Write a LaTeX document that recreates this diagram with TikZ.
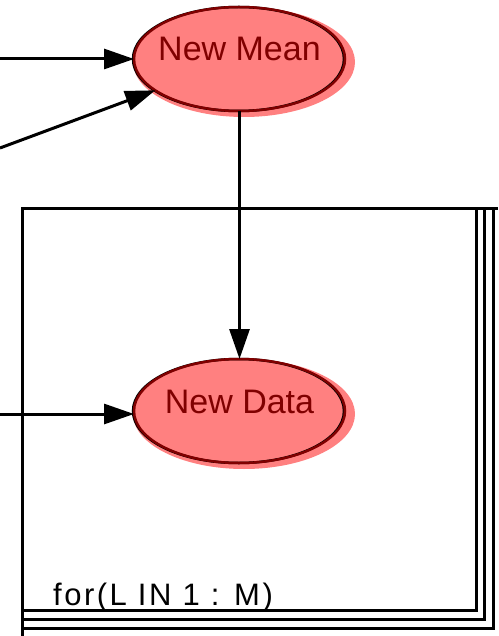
\documentclass[tikz,border=0pt]{standalone}
\usepackage{fontspec}
\setmainfont{Liberation Sans}
\newfontfamily\platefont[LetterSpace=8]{Liberation Sans}
\usetikzlibrary{shapes.geometric,arrows.meta}
\definecolor{nodefill}{HTML}{FF8080}
\definecolor{nodeline}{HTML}{800000}
\tikzset{>={Triangle[length=30pt,width=20pt]}}
\tikzset{
    stoch/.style={ellipse, draw=nodeline, line width=2.5pt, minimum width=211pt, minimum height=104pt,
        inner xsep=-12pt, inner ysep=0pt, outer sep=0pt, text=nodeline,
        font=\fontsize{34}{40}\selectfont, text height=24pt, text depth=20pt},
    blob/.style={fill=nodefill},
    link/.style={->, line width=3pt},
    plate/.style={line width=3pt}
}

\begin{document}
\begin{tikzpicture}[x=1pt, y=-1pt]
    \useasboundingbox (0,0) rectangle (498,636);
    % plate
    \draw[plate] (22,636)--(22,209)--(498,209);
    \foreach \r/\b in {476/610, 484.5/619, 493/628}
        \draw[plate] (\r,209)--(\r,\b)--(22,\b);
    \node[anchor=base west, inner sep=0pt, font=\platefont\fontsize{31}{36}\selectfont] (loop) at (53,605) {for(L IN 1 : M)};
    % nodes
    \fill[blob] (244,62) ellipse [x radius=111, y radius=55];
    \fill[blob] (244,414) ellipse [x radius=111, y radius=55];
    \draw[line width=2.5pt] (238.5,59) ellipse [x radius=105.5, y radius=52];
    \draw[line width=2.5pt] (238.5,411) ellipse [x radius=105.5, y radius=52];
    \node[stoch] (mean) at (239.5,59) {New Mean};
    \node[stoch] (data) at (239.5,411) {New Data};
    \coordinate (in1) at (0,59);
    \coordinate (in2) at (0,148);
    \coordinate (in3) at (0,414);
    % edges
    \draw[link] (in1)--(mean);
    \draw[link] (in2)--(mean);
    \draw[link] (mean)--(data);
    \draw[link] (in3)--(in3 -| data.west);
\end{tikzpicture}
\end{document}
